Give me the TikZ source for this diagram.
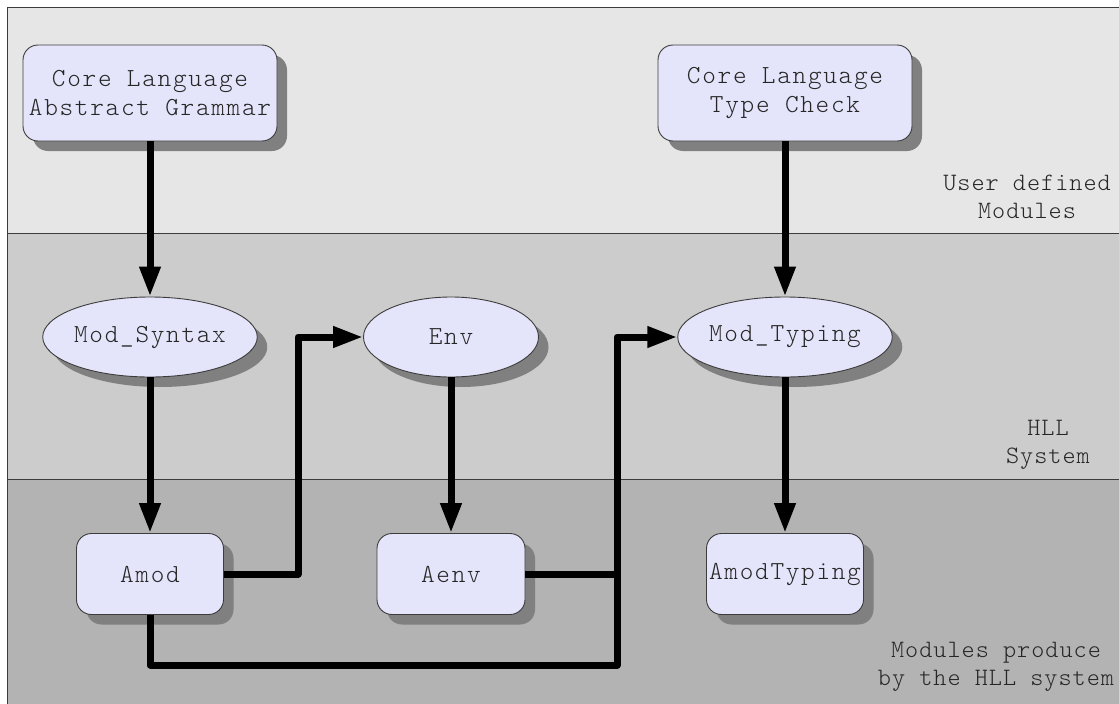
\documentclass[tikz,border=0pt]{standalone}
\usepackage{fontspec}
\newfontfamily\boxfont[LetterSpace=6.5]{Latin Modern Mono Light}
\newfontfamily\labfont[LetterSpace=4]{Latin Modern Mono Light}
\usetikzlibrary{arrows.meta,shapes.geometric,shadows}
\definecolor{boxfill}{RGB}{228,228,250}
\definecolor{bandA}{RGB}{230,230,230}
\definecolor{bandB}{RGB}{204,204,204}
\definecolor{bandC}{RGB}{179,179,179}
\definecolor{shadowgray}{RGB}{128,128,128}
\definecolor{edgegray}{RGB}{60,60,60}
\tikzset{
  mshadow/.style={drop shadow={shadow xshift=10pt, shadow yshift=-10pt, fill=shadowgray, opacity=1}},
  modbox/.style={rectangle, rounded corners=15pt, draw=edgegray, line width=0.9pt, fill=boxfill, mshadow,
    font=\boxfont\fontsize{26}{29}\selectfont, align=center, inner sep=0pt, text=black!85},
  modell/.style={ellipse, draw=edgegray, line width=0.9pt, fill=boxfill, mshadow,
    minimum width=175pt, minimum height=80pt, inner sep=0pt,
    font=\boxfont\fontsize{26}{29}\selectfont, text=black!85},
  flow/.style={line width=7pt, -{Triangle[length=30pt,width=20pt]}, line join=round},
  flowline/.style={line width=7pt, line join=round},
  bandlabel/.style={font=\labfont\fontsize{25}{28}\selectfont, align=center, inner sep=0pt, text=black!85},
  bandedge/.style={draw=edgegray, line width=1pt},
}
\begin{document}
\begin{tikzpicture}[x=1pt,y=-1pt]
\useasboundingbox (0,0) rectangle (1119,704);
\clip (0,0) rectangle (1119,704);
% bands
\fill[bandA] (7,7) rectangle (1130,233);
\fill[bandB] (7,233) rectangle (1130,479);
\fill[bandC] (7,479) rectangle (1130,720);
\draw[bandedge] (7,233) -- (1130,233);
\draw[bandedge] (7,479) -- (1130,479);
\draw[bandedge] (1130,7) -- (7,7) -- (7,720);
% band labels
\node[bandlabel] (lab1) at (1027,197) {User defined\\Modules};
\node[bandlabel] (lab2) at (1048,445) {HLL\\System};
\node[bandlabel] (lab3) at (996,667) {Modules produce\\by the HLL system};
% modules
\node[modbox, minimum width=254pt, minimum height=96pt] (g) at (150,93) {Core Language\\Abstract Grammar};
\node[modbox, minimum width=254pt, minimum height=96pt] (tc) at (785,93) {Core Language\\Type Check};
\node[modell] (ms) at (150,337) {Mod\_Syntax};
\node[modell] (env) at (451,337) {Env};
\node[modell] (mt) at (785,337) {Mod\_Typing};
\node[modbox, minimum width=147pt, minimum height=81pt] (amod) at (150,574) {Amod};
\node[modbox, minimum width=148pt, minimum height=81pt] (aenv) at (451,574) {Aenv};
\node[modbox, minimum width=157pt, minimum height=81pt] (amt) at (785,574) {AmodTyping};
% helper coordinates
\coordinate (k1) at (298,0);
\coordinate (k2) at (617,0);
\coordinate (k3) at (0,665);
% connectors
\draw[flow] (g) -- (ms);
\draw[flow] (tc) -- (mt);
\draw[flow] (ms) -- (amod);
\draw[flow] (env) -- (aenv);
\draw[flow] (mt) -- (amt);
\draw[flow] (amod.east) -- (amod.east -| k1) |- (env.west);
\draw[flow] (aenv.east) -- (aenv.east -| k2) |- (mt.west);
\draw[flowline] (amod.south) -- (amod.south |- k3) -| (aenv.east -| k2);
\end{tikzpicture}
\end{document}
